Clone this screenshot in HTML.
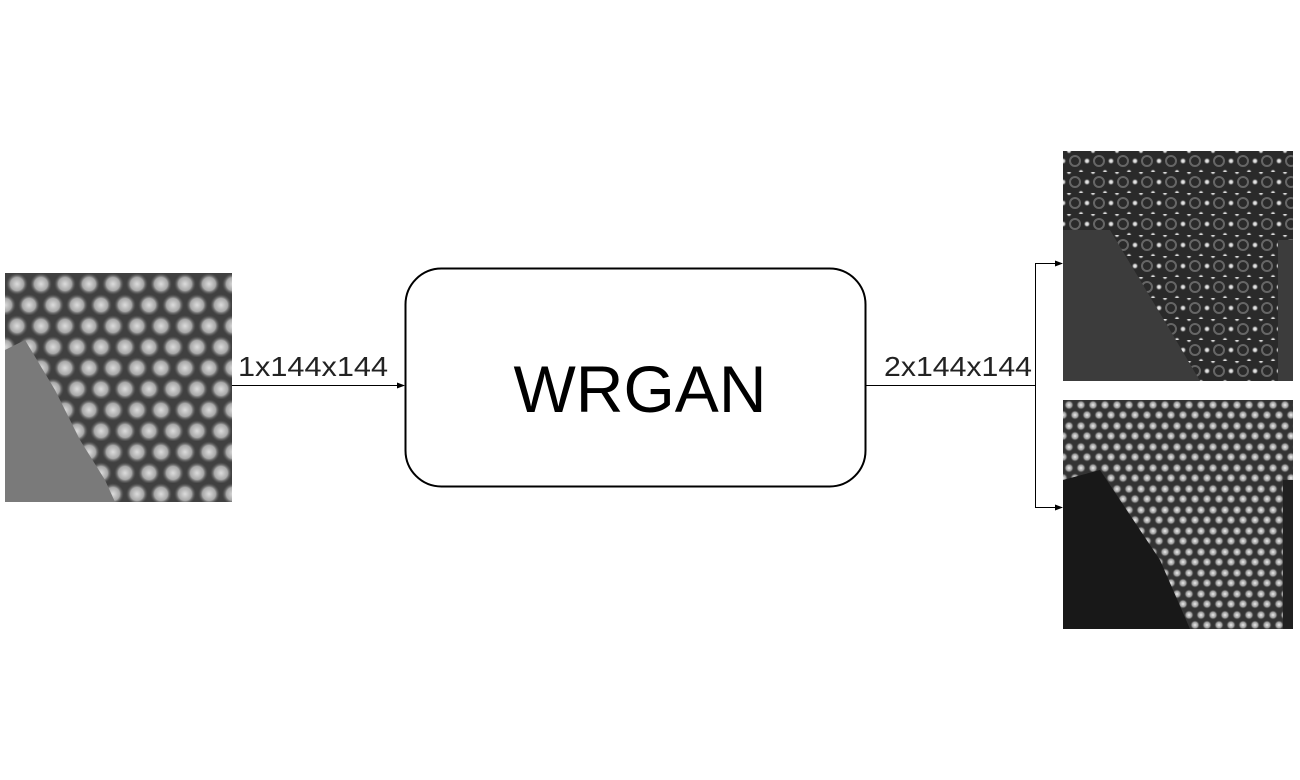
<!DOCTYPE html>
<html><head><style>
html,body{margin:0;padding:0;background:#fff;}
body{width:1300px;height:780px;position:relative;overflow:hidden;font-family:"Liberation Sans",sans-serif;}
</style></head><body>
<svg width="1300" height="780" viewBox="0 0 1300 780" xmlns="http://www.w3.org/2000/svg" style="position:absolute;left:0;top:0">
<defs>
<radialGradient id="gL"><stop offset="0" stop-color="#dcdcdc"/><stop offset="0.6" stop-color="#a8a8a8"/><stop offset="1" stop-color="#555" stop-opacity="0"/></radialGradient>
<pattern id="pL" x="5" y="273" width="24" height="42" patternUnits="userSpaceOnUse">
<rect width="24" height="42" fill="#404040"/>
<circle cx="12" cy="11" r="11" fill="url(#gL)"/>
<circle cx="0" cy="32" r="11" fill="url(#gL)"/><circle cx="24" cy="32" r="11" fill="url(#gL)"/>
</pattern>
<radialGradient id="gT"><stop offset="0" stop-color="#fff"/><stop offset="0.5" stop-color="#bbb"/><stop offset="1" stop-color="#333" stop-opacity="0"/></radialGradient>
<pattern id="pT" x="1063" y="151" width="24" height="21" patternUnits="userSpaceOnUse">
<rect width="24" height="21" fill="#2a2a2a"/>
<circle cx="12" cy="10" r="5" fill="none" stroke="#666" stroke-width="2"/>
<circle cx="0" cy="10" r="3.5" fill="url(#gT)"/><circle cx="24" cy="10" r="3.5" fill="url(#gT)"/>
<circle cx="6" cy="0" r="3" fill="url(#gT)"/><circle cx="18" cy="21" r="3" fill="url(#gT)"/>
</pattern>
<radialGradient id="gB"><stop offset="0" stop-color="#eee"/><stop offset="0.6" stop-color="#999"/><stop offset="1" stop-color="#333" stop-opacity="0"/></radialGradient>
<pattern id="pB" x="1063" y="400" width="24" height="21" patternUnits="userSpaceOnUse">
<rect width="24" height="21" fill="#333"/>
<circle cx="6" cy="5" r="5" fill="url(#gB)"/><circle cx="18" cy="5" r="5" fill="url(#gB)"/>
<circle cx="0" cy="15" r="5" fill="url(#gB)"/><circle cx="12" cy="15" r="5" fill="url(#gB)"/><circle cx="24" cy="15" r="5" fill="url(#gB)"/>
</pattern>
<marker id="ar" markerWidth="8" markerHeight="8" refX="7" refY="4" orient="auto" markerUnits="userSpaceOnUse"><path d="M0,1 L8,4 L0,7 Z" fill="#000"/></marker>
</defs>
<rect x="5" y="273" width="227" height="229" fill="url(#pL)"/>
<polygon points="5,350 25,340 55,390 80,440 105,480 115,502 5,502" fill="#7a7a7a"/>
<rect x="1063" y="151" width="230" height="230" fill="url(#pT)"/>
<polygon points="1063,230 1110,230 1170,330 1200,381 1063,381" fill="#3c3c3c"/>
<rect x="1278" y="240" width="15" height="141" fill="#3c3c3c"/>
<rect x="1063" y="400" width="230" height="229" fill="url(#pB)"/>
<polygon points="1063,480 1100,470 1160,560 1190,629 1063,629" fill="#181818"/>
<rect x="1283" y="480" width="10" height="149" fill="#202020"/>
<rect x="405.5" y="268.5" width="460" height="218" rx="36" fill="#fff" stroke="#000" stroke-width="2"/>
<text x="640" y="412" text-anchor="middle" font-family="Liberation Sans, sans-serif" font-size="66" fill="#000">WRGAN</text>
<line x1="232" y1="385.5" x2="404" y2="385.5" stroke="#000" stroke-width="1" marker-end="url(#ar)"/>
<text x="238" y="376" font-size="28" fill="#222" textLength="150" lengthAdjust="spacingAndGlyphs">1x144x144</text>
<line x1="866" y1="385.5" x2="1035" y2="385.5" stroke="#000" stroke-width="1"/>
<text x="884" y="376" font-size="28" fill="#222" textLength="148" lengthAdjust="spacingAndGlyphs">2x144x144</text>
<line x1="1035.5" y1="263" x2="1035.5" y2="507" stroke="#000" stroke-width="1"/>
<line x1="1035" y1="263.5" x2="1062" y2="263.5" stroke="#000" stroke-width="1" marker-end="url(#ar)"/>
<line x1="1035" y1="507.5" x2="1062" y2="507.5" stroke="#000" stroke-width="1" marker-end="url(#ar)"/>
</svg>
</body></html>
